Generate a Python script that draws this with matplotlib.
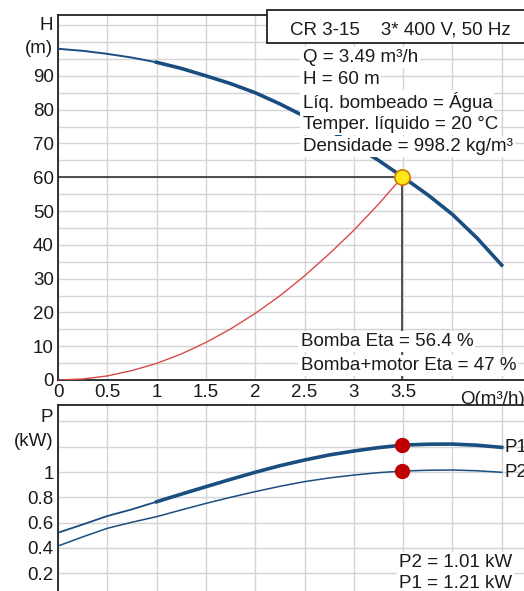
import numpy as np
import matplotlib
matplotlib.use("Agg")
import matplotlib.pyplot as plt
from matplotlib.patches import Rectangle

plt.rcParams['font.family'] = ['Liberation Sans', 'DejaVu Sans']

# flow values (m3/h)
q = [0, 0.25, 0.5, 0.75, 1.0, 1.25, 1.5, 1.75, 2.0, 2.25, 2.5, 2.75, 3.0, 3.25, 3.5, 3.75, 4.0, 4.25, 4.5]
# pump head curve (m)
head = [98.0, 97.4, 96.5, 95.4, 94.0, 92.2, 90.0, 87.7, 85.0, 81.7, 78.0, 74.0, 69.5, 65.0, 60.0, 54.8, 49.0, 42.0, 34.0]
# system curve (m)
q_sys = [0, 0.25, 0.5, 0.75, 1.0, 1.25, 1.5, 1.75, 2.0, 2.25, 2.5, 2.75, 3.0, 3.25, 3.49]
h_sys = [0, 0.3, 1.2, 2.8, 4.9, 7.7, 11.1, 15.1, 19.7, 24.9, 30.8, 37.3, 44.3, 52.0, 60.0]
# power curves (kW)
p1 = [0.52, 0.585, 0.652, 0.705, 0.765, 0.825, 0.884, 0.942, 0.998, 1.05, 1.095, 1.135, 1.166, 1.193, 1.213, 1.22, 1.221, 1.212, 1.195]
p2 = [0.415, 0.487, 0.555, 0.603, 0.647, 0.70, 0.752, 0.80, 0.845, 0.887, 0.924, 0.953, 0.976, 0.995, 1.008, 1.014, 1.016, 1.01, 0.998]

duty_q, duty_h = 3.49, 60
duty_p1, duty_p2 = 1.21, 1.01

info_lines = ["Q = 3.49 m³/h", "H = 60 m", "Líq. bombeado = Água",
              "Temper. líquido = 20 °C", "Densidade = 998.2 kg/m³"]
title_txt = "CR 3-15    3* 400 V, 50 Hz"

blue = '#1a4d80'
grid_c = '#d4d4d4'
txt_c = '#1a1a1a'
fs = 13.5
W, H = 524, 591

fig = plt.figure(figsize=(W / 100, H / 100), dpi=100)
left = 58 / W
width = 5 * 98.6 / W
ax = fig.add_axes([left, 1 - 380 / H, width, 365 / H])
ax2 = fig.add_axes([left, 1 - 598.5 / H, width, 193.5 / H])

for a in (ax, ax2):
    a.set_xlim(0, 5)
    a.set_xticks(np.arange(0, 5.01, 0.5))
    a.grid(True, color=grid_c, lw=1)
    a.set_axisbelow(True)
    a.tick_params(length=0, labelsize=fs, colors=txt_c, pad=3)
    a.spines['right'].set_visible(False)
    for s in ('left', 'top', 'bottom'):
        a.spines[s].set_color('#222222')
        a.spines[s].set_linewidth(1.3)

# ---- head chart
ax.set_ylim(0, 108)
ax.set_yticks(np.arange(0, 106, 5))
ax.set_yticklabels([str(v) if v % 10 == 0 and v <= 90 else '' for v in range(0, 106, 5)])
ax.text(-0.05, 105, 'H', ha='right', va='center', fontsize=fs, color=txt_c)
ax.text(-0.05, 98, '(m)', ha='right', va='center', fontsize=fs, color=txt_c)
ax.set_xticklabels(['0', '0.5', '1', '1.5', '2', '2.5', '3', '3.5', '', '', ''])
ax.text(4.74, -3.2, 'Q(m³/h)', ha='right', va='top', fontsize=fs, color=txt_c)

ax.plot(q[:5], head[:5], color=blue, lw=1.4, zorder=3)
ax.plot(q[4:], head[4:], color=blue, lw=2.6, zorder=3)
ax.plot(q_sys, h_sys, color='#d84a4a', lw=1.0, zorder=3)
ax.plot([0, duty_q], [duty_h, duty_h], color='#333333', lw=1.2, zorder=2)
ax.plot([duty_q, duty_q], [duty_h, 0], color='#333333', lw=1.2, zorder=2)
ax.plot([duty_q], [duty_h], 'o', ms=11, mfc='#ffe81a', mec='#d07a00', mew=1.2, zorder=5)

ax.add_patch(Rectangle((2.12, 99.6), 3.0, 10, facecolor='white', edgecolor='#222222',
                       lw=1.3, zorder=4, clip_on=False))
ax.text(2.35, 103.7, title_txt, ha='left', va='center', fontsize=fs, color=txt_c, zorder=5)

bb = dict(facecolor='white', edgecolor='none', pad=1.5)
for i, line in enumerate(info_lines):
    ax.text(2.48, 95.5 - i * 6.6, line, ha='left', va='center', fontsize=fs,
            color=txt_c, bbox=bb, zorder=4)
ax.text(2.46, 11.3, 'Bomba Eta = 56.4 %', ha='left', va='center', fontsize=fs,
        color=txt_c, bbox=bb, zorder=4)
ax.text(2.46, 4.4, 'Bomba+motor Eta = 47 %', ha='left', va='center', fontsize=fs,
        color=txt_c, bbox=bb, zorder=4)

# ---- power chart
ax2.set_ylim(0, 1.53)
ax2.set_yticks(np.arange(0, 1.41, 0.2))
ax2.set_yticklabels(['0', '0.2', '0.4', '0.6', '0.8', '1', '', ''])
ax2.text(-0.05, 1.245, '(kW)', ha='right', va='center', fontsize=fs, color=txt_c)
ax2.text(-0.05, 1.43, 'P', ha='right', va='center', fontsize=fs, color=txt_c)
ax2.set_xticklabels([])

ax2.plot(q[:5], p1[:5], color=blue, lw=1.3, zorder=3)
ax2.plot(q[4:], p1[4:], color=blue, lw=2.6, zorder=3)
ax2.plot(q, p2, color=blue, lw=1.1, zorder=3)
ax2.plot([duty_q, duty_q], [duty_p1, duty_p2], 'o', ms=10, color='#c00000', zorder=5)
ax2.text(4.53, p1[-1], 'P1', ha='left', va='center', fontsize=fs, color=txt_c)
ax2.text(4.53, p2[-1], 'P2', ha='left', va='center', fontsize=fs, color=txt_c)
ax2.text(3.46, 0.288, 'P2 = 1.01 kW', ha='left', va='center', fontsize=fs,
         color=txt_c, bbox=bb, zorder=4)
ax2.text(3.46, 0.12, 'P1 = 1.21 kW', ha='left', va='center', fontsize=fs,
         color=txt_c, bbox=bb, zorder=4)

fig.savefig('out.png', dpi=100)
